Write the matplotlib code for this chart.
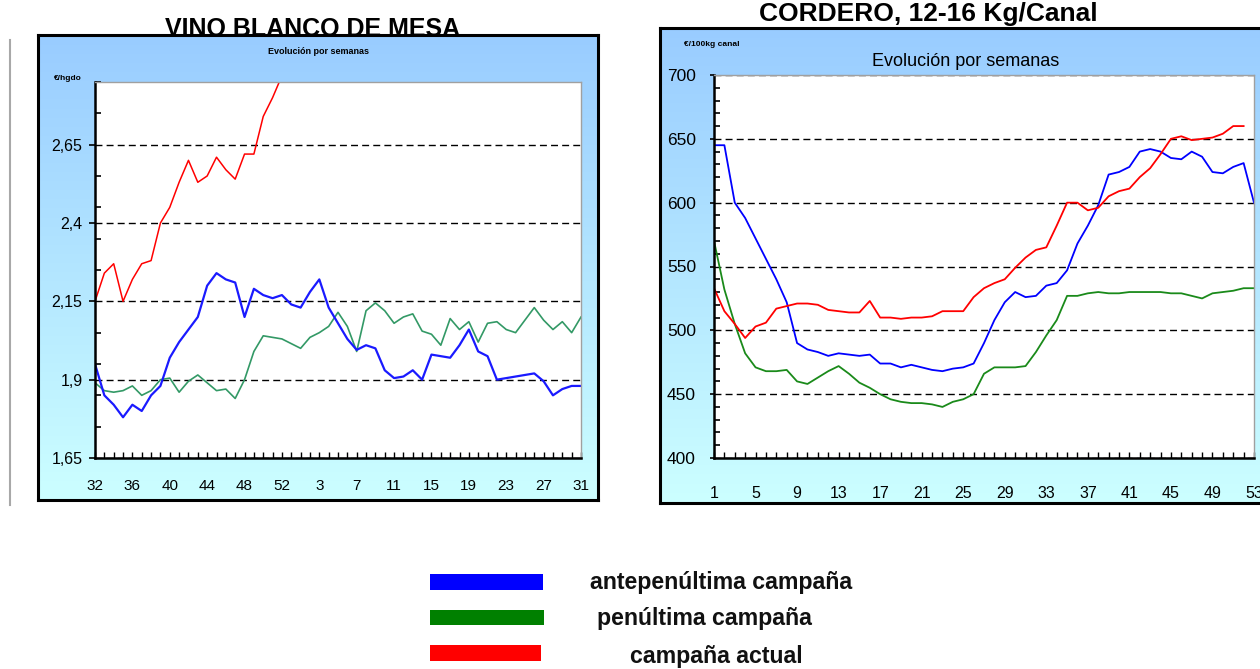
import matplotlib
matplotlib.use('Agg')
import matplotlib.pyplot as plt
import numpy as np
from matplotlib.patches import Rectangle
from matplotlib.lines import Line2D
from matplotlib.ticker import FixedLocator, MultipleLocator, FuncFormatter

plt.rcParams['font.family'] = ['Liberation Sans', 'DejaVu Sans']

# VINO BLANCO DE MESA, semanas 32..53 y 1..31 (euro/hgdo)
vino_weeks = [str(w) for w in range(32, 54)] + [str(w) for w in range(1, 32)]
vino_ante = [1.95, 1.85, 1.82, 1.78, 1.82, 1.80, 1.85, 1.88, 1.97, 2.02,
             2.06, 2.10, 2.20, 2.24, 2.22, 2.21, 2.10, 2.19, 2.17, 2.16,
             2.17, 2.14, 2.13, 2.18, 2.22, 2.13, 2.08, 2.03, 1.995, 2.01,
             2.00, 1.93, 1.905, 1.91, 1.93, 1.90, 1.98, 1.975, 1.97, 2.01,
             2.06, 1.99, 1.975, 1.90, 1.905, 1.91, 1.915, 1.92, 1.895, 1.85,
             1.87, 1.88, 1.88]
vino_pen = [1.89, 1.865, 1.86, 1.865, 1.88, 1.85, 1.865, 1.90, 1.905, 1.86,
            1.895, 1.915, 1.89, 1.865, 1.87, 1.84, 1.90, 1.99, 2.04, 2.035,
            2.03, 2.015, 2.00, 2.035, 2.05, 2.07, 2.115, 2.07, 1.99, 2.12,
            2.145, 2.12, 2.08, 2.10, 2.11, 2.055, 2.045, 2.01, 2.095, 2.06,
            2.085, 2.02, 2.08, 2.085, 2.06, 2.05, 2.09, 2.13, 2.09, 2.06,
            2.085, 2.05, 2.10]
vino_act = [2.15, 2.24, 2.27, 2.15, 2.22, 2.27, 2.28, 2.40, 2.45, 2.53,
            2.60, 2.53, 2.55, 2.61, 2.57, 2.54, 2.62, 2.62, 2.74, 2.80,
            2.87]

# CORDERO 12-16 Kg/Canal, semanas 1..53 (euro/100kg canal)
cordero_weeks = list(range(1, 54))
cordero_ante = [645, 645, 600, 588, 572, 556, 540, 522, 490, 485,
                483, 480, 482, 481, 480, 481, 474, 474, 471, 473,
                471, 469, 468, 470, 471, 474, 490, 508, 522, 530,
                526, 527, 535, 537, 547, 568, 582, 598, 622, 624,
                628, 640, 642, 640, 635, 634, 640, 636, 624, 623,
                628, 631, 600]
cordero_pen = [570, 532, 505, 482, 471, 468, 468, 469, 460, 458,
               463, 468, 472, 466, 459, 455, 450, 446, 444, 443,
               443, 442, 440, 444, 446, 450, 466, 471, 471, 471,
               472, 483, 496, 508, 527, 527, 529, 530, 529, 529,
               530, 530, 530, 530, 529, 529, 527, 525, 529, 530,
               531, 533, 533]
cordero_act = [533, 515, 505, 494, 503, 506, 517, 519, 521, 521,
               520, 516, 515, 514, 514, 523, 510, 510, 509, 510,
               510, 511, 515, 515, 515, 526, 533, 537, 540, 549,
               557, 563, 565, 582, 600, 600, 594, 596, 605, 609,
               611, 620, 627, 638, 650, 652, 649, 650, 651, 654,
               660, 660]

legend_labels = ['antepenúltima campaña', 'penúltima campaña', 'campaña actual']

W, H = 1260, 669
fig = plt.figure(figsize=(12.6, 6.69), dpi=100)


def px(x0, y0, x1, y1):
    # pixel box (top-left origin) -> figure rect
    return [x0 / W, 1 - y1 / H, (x1 - x0) / W, (y1 - y0) / H]


def frame(rect):
    bg = fig.add_axes(rect, zorder=0)
    t = np.linspace(0, 1, 256).reshape(-1, 1, 1)
    top = np.array([0.60, 0.80, 1.0])
    bottom = np.array([0.80, 1.0, 1.0])
    bg.imshow(top + (bottom - top) * t, aspect='auto', extent=[0, 1, 0, 1])
    bg.set_xticks([])
    bg.set_yticks([])
    for s in bg.spines.values():
        s.set_linewidth(2.2)
        s.set_color('black')
    return bg


def style_axes(ax):
    for side in ['top', 'right']:
        ax.spines[side].set_color('#a0a0a0')
        ax.spines[side].set_linewidth(1)
    for side in ['left', 'bottom']:
        ax.spines[side].set_color('black')
        ax.spines[side].set_linewidth(1.8)


comma = FuncFormatter(lambda v, p: f'{v:g}'.replace('.', ','))
dash = (0, (5, 3))

# ---- left chart: vino blanco
frame(px(38, 35, 598, 500))
ax1 = fig.add_axes(px(95, 82, 581, 458), zorder=1)
x1 = np.arange(len(vino_weeks))
ax1.plot(x1, vino_pen, color='#339966', lw=1.2)
ax1.plot(x1, vino_ante, color='#1a1aff', lw=1.6)
ax1.plot(np.arange(len(vino_act)), vino_act, color='#ff0000', lw=1.1)
ax1.set_xlim(0, len(vino_weeks) - 1)
ax1.set_ylim(1.65, 2.85)
ax1.yaxis.set_major_locator(FixedLocator([1.65, 1.9, 2.15, 2.4, 2.65]))
ax1.yaxis.set_minor_locator(FixedLocator(np.arange(1.65, 2.86, 0.1)))
ax1.yaxis.set_major_formatter(comma)
ax1.set_xticks(x1[::4])
ax1.set_xticklabels(vino_weeks[::4])
ax1.set_xticks(x1, minor=True)
ax1.grid(axis='y', color='black', linestyle=dash, lw=1)
ax1.tick_params(axis='y', which='major', direction='out', length=4, width=1.2,
                labelsize=11.5, pad=5)
ax1.tick_params(axis='y', which='minor', direction='in', length=4, width=1.2)
ax1.tick_params(axis='x', which='both', direction='in', length=4, width=1,
                labelsize=11, pad=15)
style_axes(ax1)

fig.text(313 / W, 1 - 36 / H, 'VINO BLANCO DE MESA', ha='center', va='baseline',
         fontsize=18, fontweight='bold', zorder=-1)
fig.text(318 / W, 1 - 52 / H, 'Evolución por semanas', ha='center', va='center',
         fontsize=6.5, fontweight='bold')
fig.text(68 / W, 1 - 78 / H, '€/hgdo', ha='center', va='center',
         fontsize=6, fontweight='bold')

# ---- right chart: cordero
frame(px(660, 28, 1275, 503))
ax2 = fig.add_axes(px(714, 75, 1254, 458), zorder=1)
ax2.plot(cordero_weeks, cordero_pen, color='#1a8a1a', lw=1.3)
ax2.plot(cordero_weeks, cordero_ante, color='#0000ff', lw=1.3)
ax2.plot(cordero_weeks[:len(cordero_act)], cordero_act, color='#ff0000', lw=1.3)
ax2.set_xlim(1, 53)
ax2.set_ylim(400, 700)
ax2.yaxis.set_major_locator(MultipleLocator(50))
ax2.yaxis.set_minor_locator(MultipleLocator(10))
ax2.set_xticks(cordero_weeks[::4])
ax2.set_xticks(cordero_weeks, minor=True)
ax2.grid(axis='y', color='black', linestyle=dash, lw=1)
ax2.tick_params(axis='y', which='major', direction='out', length=3, width=1.2,
                labelsize=12.5, pad=10)
ax2.tick_params(axis='y', which='minor', direction='in', length=4, width=1.2)
ax2.tick_params(axis='x', which='both', direction='in', length=4, width=1,
                labelsize=11.5, pad=20)
style_axes(ax2)

fig.text(928 / W, 1 - 21 / H, 'CORDERO, 12-16 Kg/Canal', ha='center', va='baseline',
         fontsize=19, fontweight='bold')
fig.text(966 / W, 1 - 61 / H, 'Evolución por semanas', ha='center', va='center',
         fontsize=13)
fig.text(712 / W, 1 - 44 / H, '€/100kg canal', ha='center', va='center',
         fontsize=6, fontweight='bold')

# gray separator line at far left
fig.add_artist(Line2D([10 / W, 10 / W], [1 - 40 / H, 1 - 505 / H],
                      color='#a8a8a8', lw=1.5))

# ---- legend
swatches = [('#0000ff', 430, 574, 543, 590, 590, 582),
            ('#008000', 430, 610, 544, 625, 597, 619),
            ('#ff0000', 430, 645, 541, 661, 630, 656)]
for (col, x0, y0, x1_, y1_, tx, ty), lab in zip(swatches, legend_labels):
    r = px(x0, y0, x1_, y1_)
    fig.add_artist(Rectangle((r[0], r[1]), r[2], r[3], transform=fig.transFigure,
                             facecolor=col, edgecolor='none'))
    fig.text(tx / W, 1 - ty / H, lab, ha='left', va='center', fontsize=16.7,
             fontweight='bold', color='#111111')

fig.savefig('out.png', dpi=100)
